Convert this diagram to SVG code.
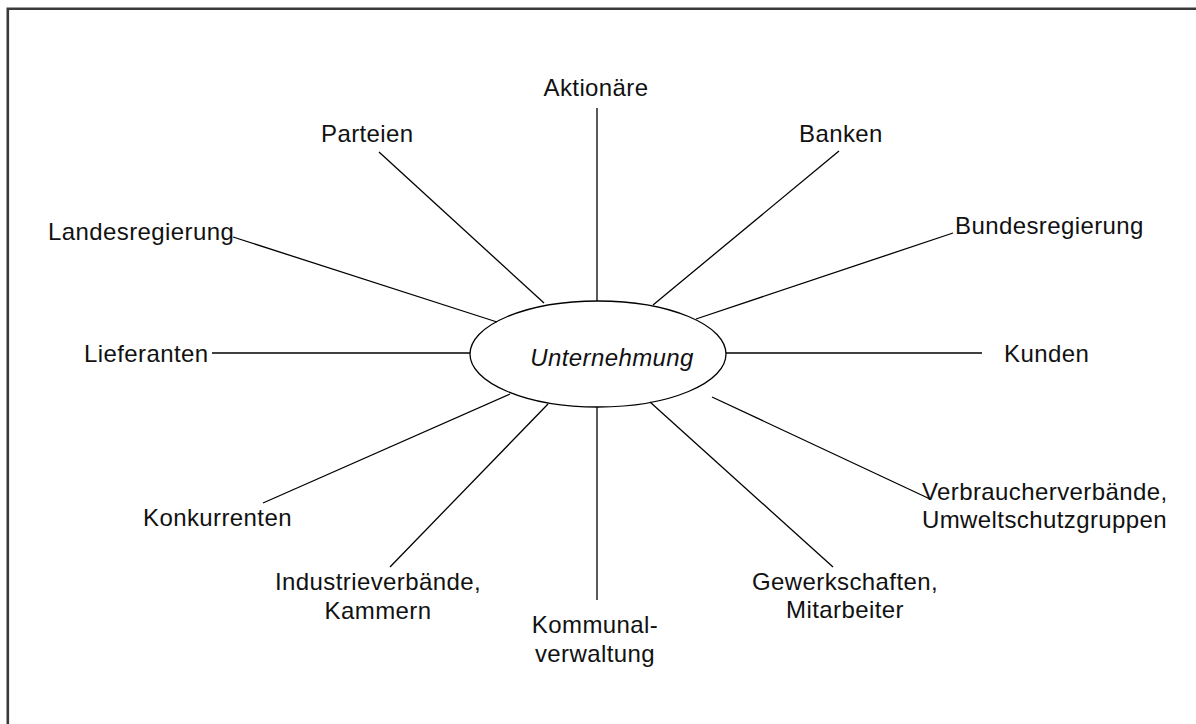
<svg xmlns="http://www.w3.org/2000/svg" width="1196" height="724" viewBox="0 0 1196 724">
<style>
.t{font-family:"Liberation Sans",Arial,sans-serif;font-size:24px;fill:#111;letter-spacing:0.4px}
.c{text-anchor:middle}
.ln{stroke:#000;stroke-width:1.3;fill:none}
</style>
<rect x="0" y="0" width="1196" height="724" fill="#fff"/>
<path d="M7.8,724 V8.7 H1196" fill="none" stroke="#3a3a3a" stroke-width="2.6"/>
<g id="connectors">
<line class="ln" x1="597" y1="108" x2="597" y2="301"/>
<line class="ln" x1="379" y1="152" x2="544" y2="303"/>
<line class="ln" x1="233" y1="237" x2="497" y2="322"/>
<line class="ln" x1="839" y1="151" x2="653" y2="305"/>
<line class="ln" x1="953" y1="233" x2="696" y2="319"/>
<line class="ln" x1="212" y1="353" x2="470" y2="353"/>
<line class="ln" x1="726" y1="353" x2="982" y2="353"/>
<line class="ln" x1="263" y1="503" x2="510" y2="394"/>
<line class="ln" x1="390" y1="567" x2="548" y2="404"/>
<line class="ln" x1="597" y1="407" x2="597" y2="600"/>
<line class="ln" x1="833" y1="567" x2="650" y2="402"/>
<line class="ln" x1="930" y1="499" x2="712" y2="397"/>
</g>
<g id="center">
<ellipse class="ln" cx="598" cy="354" rx="128" ry="53" fill="#fff"/>
<text class="t c" x="612" y="366" font-style="italic">Unternehmung</text>
</g>
<g id="aktionaere"><text class="t c" x="596" y="96">Aktionäre</text></g>
<g id="parteien"><text class="t" x="321" y="142">Parteien</text></g>
<g id="landesregierung"><text class="t" x="48" y="240">Landesregierung</text></g>
<g id="banken"><text class="t" x="799" y="142">Banken</text></g>
<g id="bundesregierung"><text class="t" x="955" y="234">Bundesregierung</text></g>
<g id="lieferanten"><text class="t" x="84" y="362">Lieferanten</text></g>
<g id="kunden"><text class="t" x="1004" y="362">Kunden</text></g>
<g id="konkurrenten"><text class="t" x="143" y="526">Konkurrenten</text></g>
<g id="industrie"><text class="t c" x="378" y="590">Industrieverbände,</text><text class="t c" x="378" y="619">Kammern</text></g>
<g id="kommunal"><text class="t c" x="595" y="633">Kommunal-</text><text class="t c" x="595" y="662">verwaltung</text></g>
<g id="gewerkschaften"><text class="t c" x="845" y="590">Gewerkschaften,</text><text class="t c" x="845" y="618">Mitarbeiter</text></g>
<g id="verbraucher"><text class="t" x="922" y="500">Verbraucherverbände,</text><text class="t" x="922" y="528">Umweltschutzgruppen</text></g>
</svg>
